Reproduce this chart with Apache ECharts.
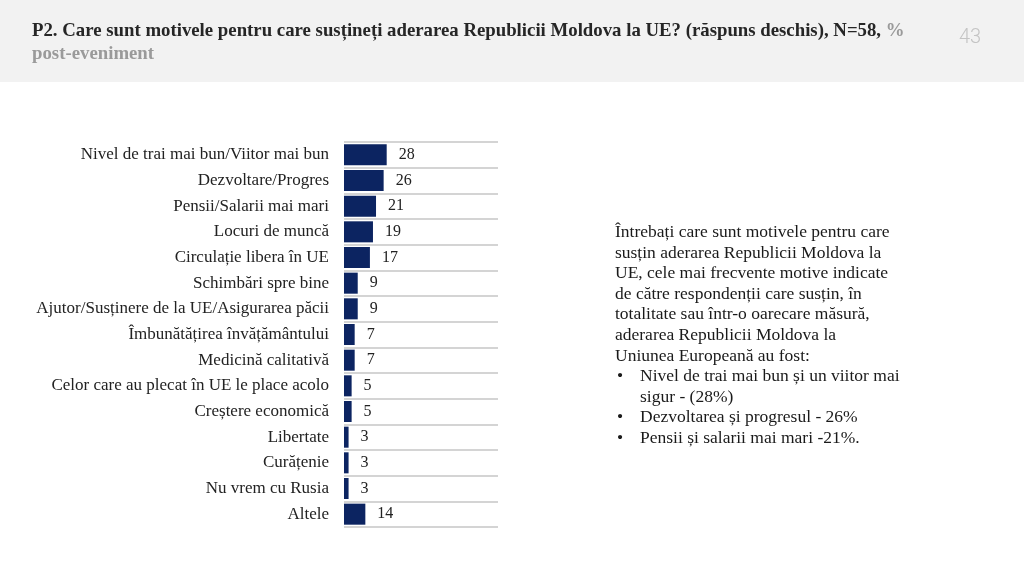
<!DOCTYPE html>
<html>
<head>
<meta charset="utf-8">
<script src="https://cdn.jsdelivr.net/npm/echarts@6/dist/echarts.min.js"></script>
<style>
html,body{margin:0;padding:0;background:#fff;}
#c{width:1024px;height:574px;}
</style>
</head>
<body>
<div id="c"></div>
<script>
var categories = [
  "Nivel de trai mai bun/Viitor mai bun",
  "Dezvoltare/Progres",
  "Pensii/Salarii mai mari",
  "Locuri de muncă",
  "Circulație libera în UE",
  "Schimbări spre bine",
  "Ajutor/Susținere de la UE/Asigurarea păcii",
  "Îmbunătățirea învățământului",
  "Medicină calitativă",
  "Celor care au plecat în UE le place acolo",
  "Creștere economică",
  "Libertate",
  "Curățenie",
  "Nu vrem cu Rusia",
  "Altele"
];
var values = [28, 26, 21, 19, 17, 9, 9, 7, 7, 5, 5, 3, 3, 3, 14];

var titleMain = "P2. Care sunt motivele pentru care susțineți aderarea Republicii Moldova la UE? (răspuns deschis), N=58, ";
var titleGray1 = "%";
var titleGray2 = "post-eveniment";
var pageNum = "43";
var noteLines = [
  "Întrebați care sunt motivele pentru care",
  "susțin aderarea Republicii Moldova la",
  "UE, cele mai frecvente motive indicate",
  "de către respondenții care susțin, în",
  "totalitate sau într-o oarecare măsură,",
  "aderarea Republicii Moldova la",
  "Uniunea Europeană au fost:"
];
var bullets = [
  ["Nivel de trai mai bun și un viitor mai", "sigur - (28%)"],
  ["Dezvoltarea și progresul - 26%"],
  ["Pensii și salarii mai mari -21%."]
];

var SERIF = "'Liberation Serif',serif";

var chart = echarts.init(document.getElementById('c'));

var graphics = [
  {type:'rect', shape:{x:0,y:0,width:1024,height:82}, style:{fill:'#f2f2f2'}, z:-10},
  {type:'text', left:959, top:28, style:{text:pageNum, font:"300 20px Roboto, sans-serif", fill:'#c4c4c4'}}
];
var y0 = 223.5, lh = 20.6;
var NF = "17.5px " + SERIF;
noteLines.forEach(function(t,i){
  graphics.push({type:'text', left:615, top:y0+i*lh, style:{text:t, font:NF, fill:'#1a1a1a'}});
});
var row = noteLines.length;
bullets.forEach(function(b){
  b.forEach(function(t,j){
    if(j===0) graphics.push({type:'text', left:617, top:y0+row*lh, style:{text:'•', font:NF, fill:'#1a1a1a'}});
    graphics.push({type:'text', left:640, top:y0+row*lh, style:{text:t, font:NF, fill:'#1a1a1a'}});
    row++;
  });
});

chart.setOption({
  animation:false,
  title:{
    left:27, top:15,
    text:'{a|'+titleMain+'}{g|'+titleGray1+'}\n{g|'+titleGray2+'}',
    textStyle:{
      rich:{
        a:{fontFamily:SERIF, fontWeight:'bold', fontSize:18.8, color:'#262626', lineHeight:23},
        g:{fontFamily:SERIF, fontWeight:'bold', fontSize:18.8, color:'#9a9a9a', lineHeight:23}
      }
    }
  },
  graphic: graphics,
  grid:{left:344, top:142, width:154, height:385, containLabel:false},
  xAxis:{
    type:'value', min:0, max:101, show:false
  },
  yAxis:{
    type:'category', inverse:true, data:categories,
    axisLine:{show:false}, axisTick:{show:false},
    axisLabel:{margin:15, fontFamily:SERIF, fontSize:17, color:'#222', padding:[3,0,0,0]},
    splitLine:{show:true, lineStyle:{color:'#d4d4d4', width:2}}
  },
  series:[{
    type:'bar', data:values, barCategoryGap:'18%',
    itemStyle:{color:'#0c2461'},
    label:{show:true, position:'right', distance:12, fontFamily:SERIF, fontSize:16, color:'#222', padding:[3,0,0,0]}
  }]
});
</script>
</body>
</html>
